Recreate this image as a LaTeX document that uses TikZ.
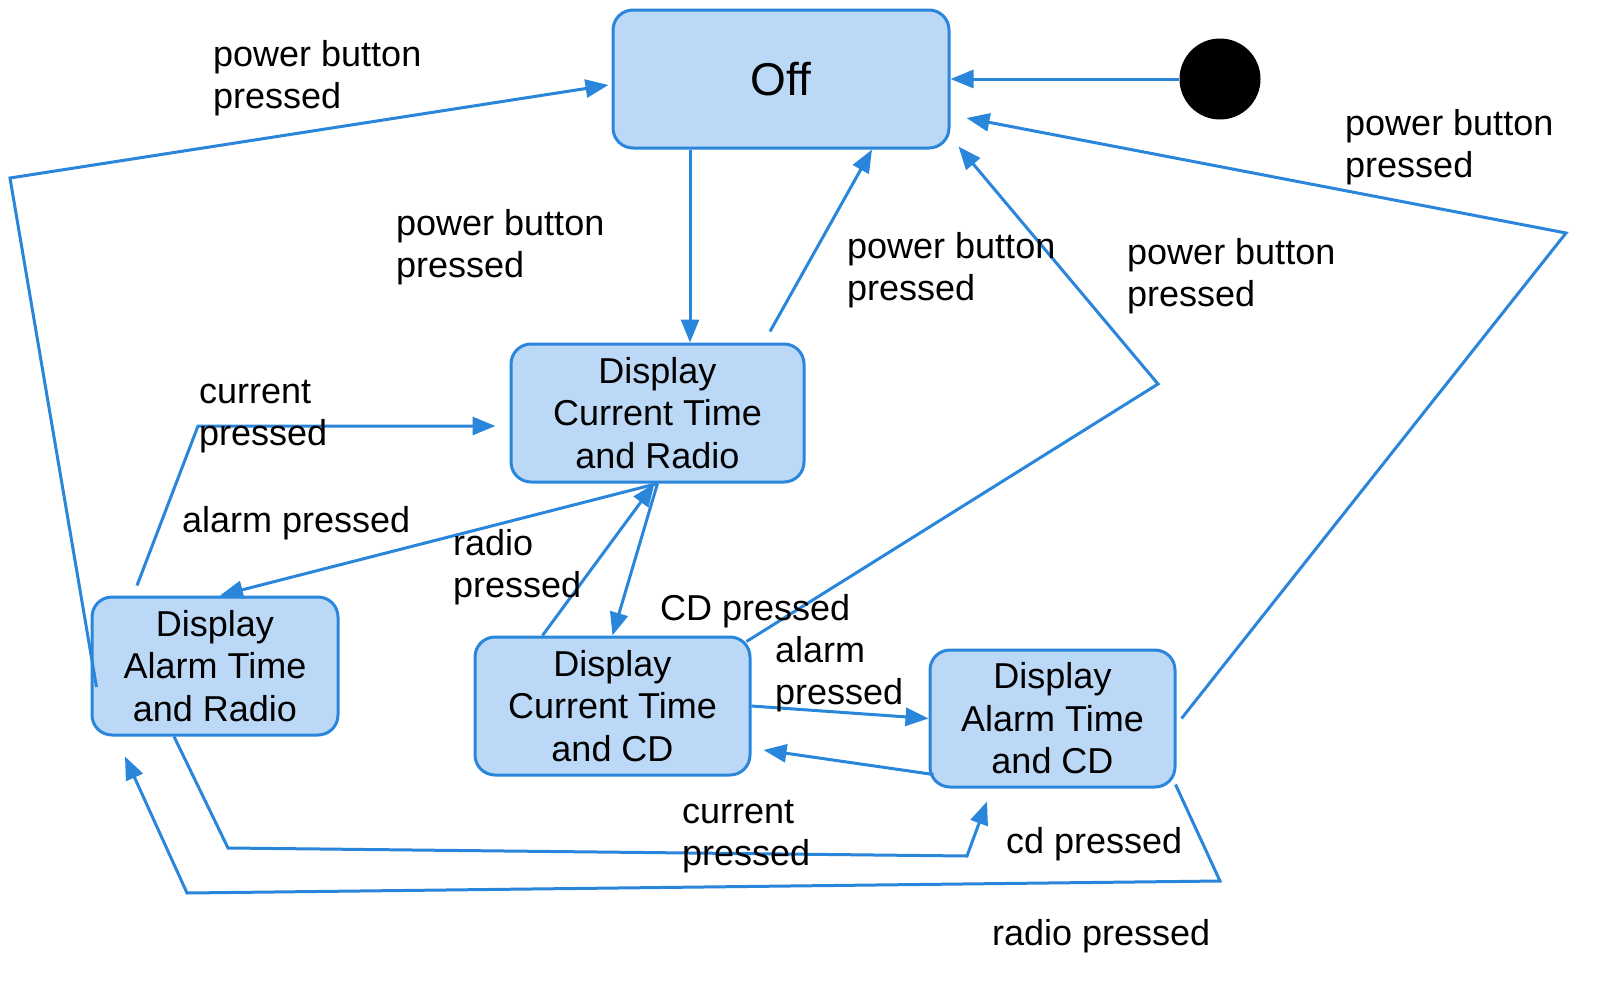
\documentclass[tikz,border=0pt]{standalone}
\usepackage{fontspec}
\setmainfont{Liberation Sans}
\usetikzlibrary{arrows.meta}
\definecolor{stateline}{RGB}{42,134,218}
\definecolor{statefill}{RGB}{187,216,246}

\begin{document}
\begin{tikzpicture}[x=1pt, y=-1pt,
  state/.style={draw=stateline, fill=statefill, line width=3pt, rounded corners=20pt, align=center, inner sep=0pt, font=\fontsize{36}{42.5}\selectfont},
  flow/.style={draw=stateline, line width=3pt, -{Triangle[length=23pt,width=18pt]}},
  lbl/.style={anchor=north west, inner sep=0pt, align=left, font=\fontsize{36}{42.5}\selectfont}]
\useasboundingbox (0,0) rectangle (1620,985);

% States
\node[state, minimum width=336pt, minimum height=138pt, font=\fontsize{46}{50}\selectfont] (off) at (781,79) {Off};
\node[circle, fill=black, minimum size=81pt, inner sep=0pt] (start) at (1220,79) {};
\node[state, minimum width=293pt, minimum height=138pt] (dcr) at (657.5,413) {Display\\Current Time\\and Radio};
\node[state, minimum width=246pt, minimum height=138pt] (dar) at (215,666) {Display\\Alarm Time\\and Radio};
\node[state, minimum width=275pt, minimum height=138pt] (dcc) at (612.5,706) {Display\\Current Time\\and CD};
\node[state, minimum width=245pt, minimum height=137pt] (dac) at (1052.5,718.5) {Display\\Alarm Time\\and CD};

% Bend points
\coordinate (b4) at (1158,384);
\coordinate (b5) at (1566,233);
\coordinate (b6) at (10,178);
\coordinate (b7) at (198,426);
\coordinate (b13a) at (228,848);
\coordinate (b13b) at (967,856);
\coordinate (b14a) at (1220,881);
\coordinate (b14b) at (187,893);

% Transitions
\draw[flow] (start) -- (off.east);
\draw[flow] ([xshift=-91pt]off.south) -- ([xshift=32.5pt]dcr.north);
\draw[flow] ([xshift=112.5pt,yshift=11pt]dcr.north) -- ([xshift=91pt]off.south);
\draw[flow] ([xshift=-5pt,yshift=-6pt]dcc.north east) -- (b4) -- ([xshift=8pt,yshift=3pt]off.south east);
\draw[flow] ([xshift=5pt]dac.east) -- (b5) -- ([xshift=16pt,yshift=-39pt]off.east);
\draw[flow] ([xshift=6pt,yshift=-21pt]dar.west) -- (b6) -- ([xshift=-3pt,yshift=-6pt]off.west);
\draw[flow] ([xshift=-78pt,yshift=10pt]dar.north) -- (b7) -- ([xshift=-14pt,yshift=-13pt]dcr.west);
\draw[flow] (dcr.south) -- ([xshift=5pt]dar.north);
\draw[flow] ([xshift=-70pt]dcc.north) -- ([xshift=-3pt]dcr.south);
\draw[flow] (dcr.south) -- (dcc.north);
\draw[flow] (dcc.east) -- (dac.west);
\draw[flow] ([xshift=5pt,yshift=14pt]dac.south west) -- ([xshift=12pt,yshift=-44pt]dcc.east);
\draw[flow] ([xshift=-41pt]dar.south) -- (b13a) -- (b13b) -- ([xshift=-65.5pt,yshift=-13pt]dac.south);
\draw[flow] ([xshift=-1pt,yshift=4pt]dac.south east) -- (b14a) -- (b14b) -- ([xshift=-90pt,yshift=-20pt]dar.south);

% Labels
\node[lbl] (l1) at (213,40) {power button\\pressed};
\node[lbl] (l2) at (396,209) {power button\\pressed};
\node[lbl] (l3) at (847,232) {power button\\pressed};
\node[lbl] (l4) at (1127,238) {power button\\pressed};
\node[lbl] (l5) at (1345,109) {power button\\pressed};
\node[lbl] (l6) at (199,380) {current\\pressed};
\node[lbl] (l7) at (182,506) {alarm pressed};
\node[lbl] (l8) at (453,529) {radio\\pressed};
\node[lbl] (l9) at (660,594) {CD pressed};
\node[lbl] (l10) at (775,636) {alarm\\pressed};
\node[lbl] (l11) at (682,800) {current\\pressed};
\node[lbl] (l12) at (1006,827) {cd pressed};
\node[lbl] (l13) at (992,919) {radio pressed};
\end{tikzpicture}
\end{document}
